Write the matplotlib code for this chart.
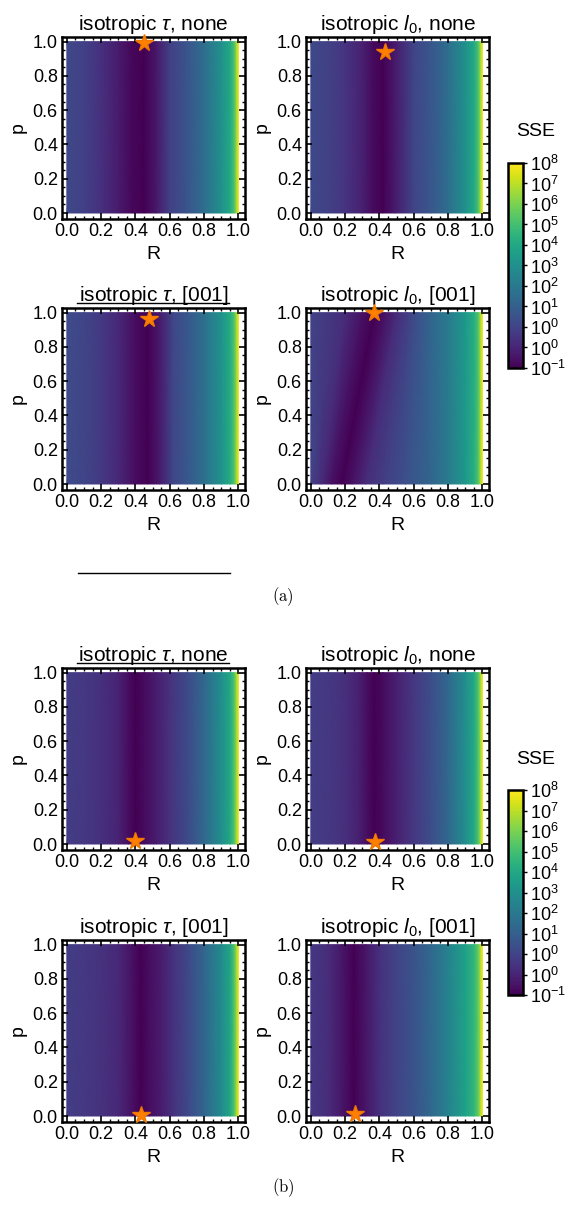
import matplotlib.pyplot as plt
import numpy as np
from matplotlib.colors import Normalize
from matplotlib.cm import ScalarMappable
from matplotlib.lines import Line2D
from matplotlib.ticker import MultipleLocator

plt.rcParams['font.family'] = ['Liberation Sans', 'DejaVu Sans']
plt.rcParams['mathtext.fontset'] = 'custom'
plt.rcParams['mathtext.rm'] = 'Liberation Sans'
plt.rcParams['mathtext.it'] = 'Liberation Sans:italic'
plt.rcParams['mathtext.bf'] = 'Liberation Sans:bold'

W, H = 568, 1209

titles = [r'isotropic $\tau$, none', r'isotropic $l_0$, none',
          r'isotropic $\tau$, [001]', r'isotropic $l_0$, [001]']

# log10(SSE) along R (same profile at p=0 and p=1 unless a top row is given)
a1_R = [0.0, 0.1, 0.2, 0.3, 0.38, 0.45, 0.52, 0.6, 0.7, 0.8, 0.9, 0.95, 0.975, 0.99, 1.0]
a1_sse = [1.0, 0.7, 0.25, -0.35, -0.85, -1.0, -0.45, 0.7, 1.35, 2.2, 3.5, 4.4, 5.4, 6.8, 8.0]

a2_R = [0.0, 0.1, 0.2, 0.3, 0.36, 0.42, 0.49, 0.6, 0.7, 0.8, 0.9, 0.95, 0.975, 0.99, 1.0]
a2_sse = [1.0, 0.75, 0.35, -0.2, -0.75, -1.0, -0.4, 0.85, 1.4, 2.2, 3.5, 4.4, 5.4, 6.8, 8.0]

a3_R = [0.0, 0.1, 0.2, 0.3, 0.4, 0.47, 0.54, 0.62, 0.7, 0.8, 0.9, 0.95, 0.975, 0.99, 1.0]
a3_sse = [1.05, 0.85, 0.5, 0.0, -0.7, -1.0, -0.4, 0.9, 1.4, 2.3, 3.6, 4.5, 5.5, 6.8, 8.0]

a4_R = [0.0, 0.06, 0.12, 0.18, 0.24, 0.32, 0.42, 0.55, 0.7, 0.8, 0.9, 0.95, 0.975, 0.99, 1.0]
a4_R_top = [0.0, 0.2, 0.3, 0.37, 0.43, 0.5, 0.56, 0.62, 0.7, 0.8, 0.9, 0.95, 0.975, 0.99, 1.0]
a4_sse = [0.8, 0.1, -0.6, -1.0, -0.6, 0.1, 0.6, 1.2, 1.9, 2.7, 3.8, 4.6, 5.5, 6.9, 8.0]

b1_R = [0.0, 0.1, 0.2, 0.3, 0.36, 0.4, 0.45, 0.52, 0.6, 0.7, 0.8, 0.9, 0.95, 0.975, 0.99, 1.0]
b1_sse = [0.6, 0.45, 0.25, -0.15, -0.7, -1.0, -0.75, -0.3, 0.3, 1.0, 2.0, 3.4, 4.4, 5.5, 6.8, 8.0]

b2_R = [0.0, 0.1, 0.2, 0.28, 0.33, 0.37, 0.42, 0.5, 0.6, 0.7, 0.8, 0.9, 0.95, 0.975, 0.99, 1.0]
b2_sse = [0.6, 0.45, 0.2, -0.2, -0.7, -1.0, -0.75, -0.2, 0.45, 1.1, 2.0, 3.4, 4.4, 5.5, 6.8, 8.0]

b3_R = [0.0, 0.1, 0.2, 0.3, 0.38, 0.43, 0.48, 0.55, 0.62, 0.7, 0.8, 0.9, 0.95, 0.975, 0.99, 1.0]
b3_sse = [0.6, 0.45, 0.3, 0.0, -0.6, -1.0, -0.7, -0.3, 0.3, 0.9, 1.9, 3.3, 4.3, 5.5, 6.8, 8.0]

b4_R = [0.0, 0.1, 0.18, 0.25, 0.32, 0.4, 0.5, 0.6, 0.7, 0.8, 0.9, 0.95, 0.975, 0.99, 1.0]
b4_sse = [0.45, 0.15, -0.45, -1.0, -0.5, 0.25, 0.8, 1.3, 2.0, 3.0, 4.1, 4.9, 5.8, 7.0, 8.0]

# best-fit points
star_a_R = [0.45, 0.43, 0.48, 0.37]
star_a_p = [0.99, 0.94, 0.965, 1.0]
star_b_R = [0.40, 0.375, 0.43, 0.26]
star_b_p = [0.015, 0.01, 0.005, 0.01]

cbar_ticks = np.linspace(-1, 8, 11)
cbar_labels = ['-1', '0', '0', '1', '2', '3', '4', '5', '6', '7', '8']

norm = Normalize(-1, 8)
cmap = plt.get_cmap('viridis')


def px_axes(fig, x, y, w, h):
    return fig.add_axes([x / W, 1 - (y + h) / H, w / W, h / H])


def draw_panel(ax, R, sse, title, sR, sp, R_top=None):
    if R_top is None:
        R_top = R
    X = np.array([R, R_top])
    Y = np.array([[0.0] * len(R), [1.0] * len(R)])
    C = np.array([sse, sse])
    ax.pcolormesh(X, Y, C, shading='gouraud', cmap=cmap, norm=norm)
    ax.plot(sR, sp, marker='*', ms=13, color='#ff8000', mec='#f07800',
            ls='none', clip_on=False, zorder=5)
    ax.set_xlim(-0.028, 1.038)
    ax.set_ylim(-0.035, 1.027)
    ax.set_xticks([0, 0.2, 0.4, 0.6, 0.8, 1.0])
    ax.set_yticks([0, 0.2, 0.4, 0.6, 0.8, 1.0])
    ax.xaxis.set_minor_locator(MultipleLocator(0.05))
    ax.yaxis.set_minor_locator(MultipleLocator(0.05))
    ax.tick_params(which='both', direction='in', top=True, right=True,
                   labelsize=13, pad=3)
    ax.tick_params(which='major', length=4, width=1.2)
    ax.tick_params(which='minor', length=2, width=1)
    for s in ax.spines.values():
        s.set_linewidth(1.8)
    ax.set_xlabel('R', fontsize=14, labelpad=4)
    ax.set_ylabel('p', fontsize=14, labelpad=4)
    ax.set_title(title, fontsize=15, pad=5)


fig = plt.figure(figsize=(W / 100, H / 100), dpi=100)

cols = [62, 306]
rows_a = [37, 308]
rows_b = [668, 940]
box_w, box_h = 183, 182

panels_a = [(a1_R, a1_sse, None), (a2_R, a2_sse, None), (a3_R, a3_sse, None), (a4_R, a4_sse, a4_R_top)]
panels_b = [(b1_R, b1_sse, None), (b2_R, b2_sse, None), (b3_R, b3_sse, None), (b4_R, b4_sse, None)]

for rows, panels, sRs, sps, cy in [(rows_a, panels_a, star_a_R, star_a_p, 163),
                                   (rows_b, panels_b, star_b_R, star_b_p, 790)]:
    for i, (R, sse, R_top) in enumerate(panels):
        ax = px_axes(fig, cols[i % 2], rows[i // 2], box_w, box_h)
        draw_panel(ax, R, sse, titles[i], sRs[i], sps[i], R_top)

    # colour bar
    cax = px_axes(fig, 508, cy, 15, 205)
    cb = fig.colorbar(ScalarMappable(norm=norm, cmap=cmap), cax=cax)
    cb.set_ticks(cbar_ticks)
    cb.set_ticklabels([r'$10^{%s}$' % t for t in cbar_labels])
    cb.ax.tick_params(labelsize=13, length=3, width=1, pad=2)
    cb.outline.set_linewidth(1.8)
    fig.text(536 / W, 1 - (cy - 31) / H, 'SSE', fontsize=14, ha='center', va='center')

# underlines around some titles and the stray rule below (a)
for x0, x1, y in [(77, 229, 303), (78, 230, 573), (77, 229, 663)]:
    fig.add_artist(Line2D([x0 / W, x1 / W], [1 - y / H] * 2, color='k', lw=1,
                          transform=fig.transFigure))

fig.text(283 / W, 1 - 597 / H, r'$\mathrm{(a)}$', fontsize=12, ha='center', va='center',
         math_fontfamily='cm')
fig.text(283 / W, 1 - 1188 / H, r'$\mathrm{(b)}$', fontsize=12, ha='center', va='center',
         math_fontfamily='cm')

fig.savefig('out.png', dpi=100)
